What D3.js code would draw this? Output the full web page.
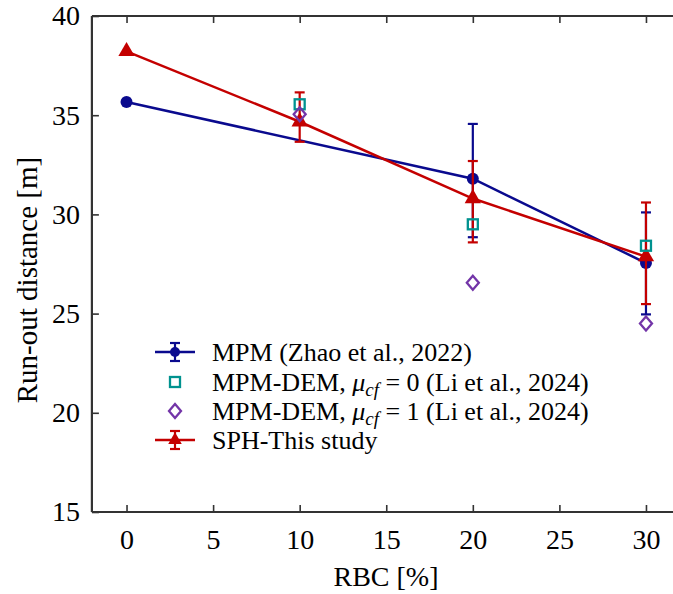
<!DOCTYPE html>
<html><head><meta charset="utf-8">
<script src="https://cdn.jsdelivr.net/npm/d3@7"></script>
<style>body{margin:0;background:#fff}svg{display:block}</style>
</head><body>
<svg id="chart" width="673" height="594"></svg>
<script>
// Data
const xTicks = [0, 5, 10, 15, 20, 25, 30];
const yTicks = [15, 20, 25, 30, 35, 40];
const mpmX = [0, 20, 30];
const mpmY = [35.67, 31.8, 27.55];
const mpmLo = [35.67, 28.85, 24.96];
const mpmHi = [35.67, 34.56, 30.1];
const demMu0X = [10, 20, 30];
const demMu0Y = [35.55, 29.5, 28.42];
const demMu1X = [10, 20, 30];
const demMu1Y = [35.05, 26.55, 24.5];
const sphX = [0, 10, 20, 30];
const sphY = [38.22, 34.67, 30.8, 27.87];
const sphLo = [38.22, 33.66, 28.59, 25.48];
const sphHi = [38.22, 36.15, 32.69, 30.6];

const C_BLUE = "#0a0a8e", C_RED = "#c40000", C_TEAL = "#00928f", C_PURPLE = "#7335a8";
const FONT = `"Liberation Serif"`;

const svg = d3.select("#chart");
const x = d3.scaleLinear().domain([-2, 32]).range([91.9, 680.6]);
const y = d3.scaleLinear().domain([15, 40]).range([512, 16]);

const axisColor = "#333";
const g = svg.append("g");
const bx = g.append("g").attr("transform", "translate(0,512)")
  .call(d3.axisBottom(x).tickValues(xTicks).tickSize(-7).tickPadding(17).tickFormat(d3.format("d")));
const tx = g.append("g").attr("transform", "translate(0,16)")
  .call(d3.axisTop(x).tickValues(xTicks).tickSize(-7).tickFormat(""));
const ly = g.append("g").attr("transform", "translate(91.9,0)")
  .call(d3.axisLeft(y).tickValues(yTicks).tickSize(-7).tickPadding(12).tickFormat(d3.format("d")));
[bx, tx, ly].forEach(a => {
  a.select(".domain").attr("stroke", axisColor).attr("stroke-width", 2.2);
  a.selectAll(".tick line").attr("stroke", axisColor).attr("stroke-width", 1.6);
  a.selectAll("text").style("font-family", FONT).attr("font-size", 28).attr("fill", "#000");
});
tx.select(".domain").attr("d", `M91.9,0H680.6`);
bx.select(".domain").attr("d", `M91.9,0H680.6`);
ly.select(".domain").attr("d", `M0,16V512`);

svg.append("text").attr("x", 386).attr("y", 586).attr("text-anchor", "middle")
  .style("font-family", FONT).attr("font-size", 28).text("RBC [%]");
svg.append("text").attr("transform", "translate(37,280) rotate(-90)").attr("text-anchor", "middle")
  .style("font-family", FONT).attr("font-size", 29).text("Run-out distance [m]");

const line = d3.line().x(d => x(d[0])).y(d => y(d[1]));
const capW = 5;

function drawErr(xs, lo, hi, color, sw) {
  const eg = svg.append("g");
  xs.forEach((xv, i) => {
    if (lo[i] === hi[i]) return;
    eg.append("line").attr("x1", x(xv)).attr("x2", x(xv)).attr("y1", y(lo[i])).attr("y2", y(hi[i]))
      .attr("stroke", color).attr("stroke-width", sw);
    [lo[i], hi[i]].forEach(v => eg.append("line").attr("x1", x(xv) - capW).attr("x2", x(xv) + capW)
      .attr("y1", y(v)).attr("y2", y(v)).attr("stroke", color).attr("stroke-width", sw));
  });
}

svg.append("path").datum(mpmX.map((v, i) => [v, mpmY[i]])).attr("d", line)
  .attr("fill", "none").attr("stroke", C_BLUE).attr("stroke-width", 2.5);
drawErr(mpmX, mpmLo, mpmHi, C_BLUE, 2.2);
svg.append("g").selectAll("circle").data(mpmX).join("circle")
  .attr("cx", d => x(d)).attr("cy", (d, i) => y(mpmY[i])).attr("r", 6).attr("fill", C_BLUE);

svg.append("path").datum(sphX.map((v, i) => [v, sphY[i]])).attr("d", line)
  .attr("fill", "none").attr("stroke", C_RED).attr("stroke-width", 2.5);
drawErr(sphX, sphLo, sphHi, C_RED, 2.2);
const tri = d3.symbol().type(d3.symbolTriangle).size(115);
svg.append("g").selectAll("path").data(sphX).join("path")
  .attr("transform", (d, i) => `translate(${x(d)},${y(sphY[i])})`).attr("d", tri()).attr("fill", C_RED);

svg.append("g").selectAll("rect").data(demMu0X).join("rect")
  .attr("x", d => x(d) - 5).attr("y", (d, i) => y(demMu0Y[i]) - 5).attr("width", 10).attr("height", 10)
  .attr("fill", "none").attr("stroke", C_TEAL).attr("stroke-width", 2.3);
const diamond = (cx, cy) => `M${cx},${cy - 7}L${cx + 6},${cy}L${cx},${cy + 7}L${cx - 6},${cy}Z`;
svg.append("g").selectAll("path").data(demMu1X).join("path")
  .attr("d", (d, i) => diamond(x(d), y(demMu1Y[i])))
  .attr("fill", "none").attr("stroke", C_PURPLE).attr("stroke-width", 2.3);

// Legend
const lg = svg.append("g");
const lx0 = 155, lx1 = 195, lxm = 175, ltx = 212;
const rows = [352, 382, 411, 440];
function legErr(cy, color) {
  lg.append("line").attr("x1", lx0).attr("x2", lx1).attr("y1", cy).attr("y2", cy).attr("stroke", color).attr("stroke-width", 2.5);
  lg.append("line").attr("x1", lxm).attr("x2", lxm).attr("y1", cy - 9).attr("y2", cy + 9).attr("stroke", color).attr("stroke-width", 2.2);
  [cy - 9, cy + 9].forEach(v => lg.append("line").attr("x1", lxm - capW).attr("x2", lxm + capW).attr("y1", v).attr("y2", v).attr("stroke", color).attr("stroke-width", 2.2));
}
legErr(rows[0], C_BLUE);
lg.append("circle").attr("cx", lxm).attr("cy", rows[0]).attr("r", 5).attr("fill", C_BLUE);
lg.append("rect").attr("x", lxm - 5).attr("y", rows[1] - 5).attr("width", 10).attr("height", 10)
  .attr("fill", "none").attr("stroke", C_TEAL).attr("stroke-width", 2.3);
lg.append("path").attr("d", diamond(lxm, rows[2])).attr("fill", "none").attr("stroke", C_PURPLE).attr("stroke-width", 2.3);
legErr(rows[3], C_RED);
lg.append("path").attr("transform", `translate(${lxm},${rows[3]})`).attr("d", d3.symbol().type(d3.symbolTriangle).size(80)()).attr("fill", C_RED);

function legText(cy, parts) {
  const t = lg.append("text").attr("x", ltx).attr("y", cy + 9).style("font-family", FONT).attr("font-size", 26);
  parts.forEach(p => {
    const s = t.append("tspan").text(p.t);
    if (p.it) s.attr("font-style", "italic");
    if (p.sub) s.attr("font-size", 19).attr("dy", 5);
    if (p.up) s.attr("dy", -5);
  });
}
legText(rows[0], [{t: "MPM (Zhao et al., 2022)"}]);
legText(rows[1], [{t: "MPM-DEM, "}, {t: "μ", it: true}, {t: "cf", it: true, sub: true}, {t: " = 0 (Li et al., 2024)", up: true}]);
legText(rows[2], [{t: "MPM-DEM, "}, {t: "μ", it: true}, {t: "cf", it: true, sub: true}, {t: " = 1 (Li et al., 2024)", up: true}]);
legText(rows[3], [{t: "SPH-This study"}]);
</script>
</body></html>
